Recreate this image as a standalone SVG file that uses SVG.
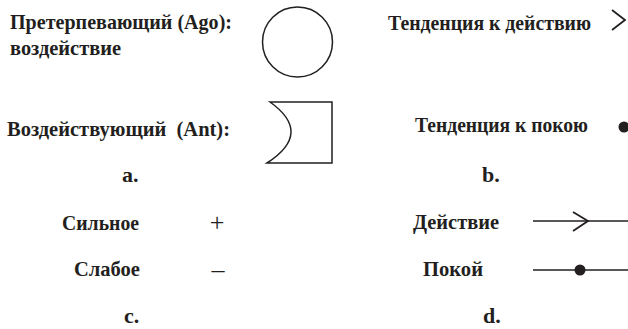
<svg xmlns="http://www.w3.org/2000/svg" width="628" height="329" viewBox="0 0 628 329">
<style>
  .t { font-family: "Liberation Serif", "DejaVu Serif", serif; font-weight: bold; font-size: 22px; fill: #231f20; white-space: pre; }
  .s { font-family: "Liberation Serif", "DejaVu Serif", serif; font-weight: normal; font-size: 26px; fill: #231f20; }
  .ln { fill: none; stroke: #231f20; stroke-width: 1.5; }
  .dot { fill: #231f20; }
</style>
<rect width="628" height="329" fill="#ffffff"/>
<g id="ago">
  <text class="t" x="10" y="29" textLength="222" lengthAdjust="spacingAndGlyphs">Претерпевающий (Ago):</text>
  <text class="t" x="10" y="55" textLength="111" lengthAdjust="spacingAndGlyphs">воздействие</text>
  <circle class="ln" cx="297.5" cy="42" r="35"/>
</g>
<g id="ant">
  <text class="t" x="7" y="136" textLength="223" lengthAdjust="spacingAndGlyphs" xml:space="preserve">Воздействующий  (Ant):</text>
  <path class="ln" d="M270,102 L332,102 L332,163 L267,163 Q313.5,133 270,102 Z"/>
</g>
<g id="label-a"><text class="t" x="122" y="182">a.</text></g>
<g id="tend-action">
  <text class="t" x="388" y="30" textLength="203" lengthAdjust="spacingAndGlyphs">Тенденция к действию</text>
  <path class="ln" style="stroke-width:1.8" d="M612,10 L625,20 L612,30"/>
</g>
<g id="tend-rest">
  <text class="t" x="415" y="132" textLength="173" lengthAdjust="spacingAndGlyphs">Тенденция к покою</text>
  <circle class="dot" cx="624" cy="127" r="5.5"/>
</g>
<g id="label-b"><text class="t" x="482" y="182">b.</text></g>
<g id="strong">
  <text class="t" x="62" y="230" textLength="77" lengthAdjust="spacingAndGlyphs">Сильное</text>
  <text class="s" x="217" y="231" text-anchor="middle">+</text>
</g>
<g id="weak">
  <text class="t" x="74" y="276" textLength="66" lengthAdjust="spacingAndGlyphs">Слабое</text>
  <text class="s" x="218" y="278" text-anchor="middle">–</text>
</g>
<g id="label-c"><text class="t" x="124" y="323">c.</text></g>
<g id="action">
  <text class="t" x="413" y="229" textLength="86" lengthAdjust="spacingAndGlyphs">Действие</text>
</g>
<g id="rest">
  <text class="t" x="423" y="276" textLength="60" lengthAdjust="spacingAndGlyphs">Покой</text>
</g>
<g id="label-d"><text class="t" x="483" y="323">d.</text></g>
<g id="connectors">
  <line class="ln" x1="533" y1="221" x2="628" y2="221"/>
  <path class="ln" style="stroke-width:1.8" d="M573,212 L588,221 L573,231"/>
  <line class="ln" x1="533" y1="270" x2="628" y2="270"/>
  <circle class="dot" cx="580" cy="270" r="5.5"/>
</g>
</svg>
